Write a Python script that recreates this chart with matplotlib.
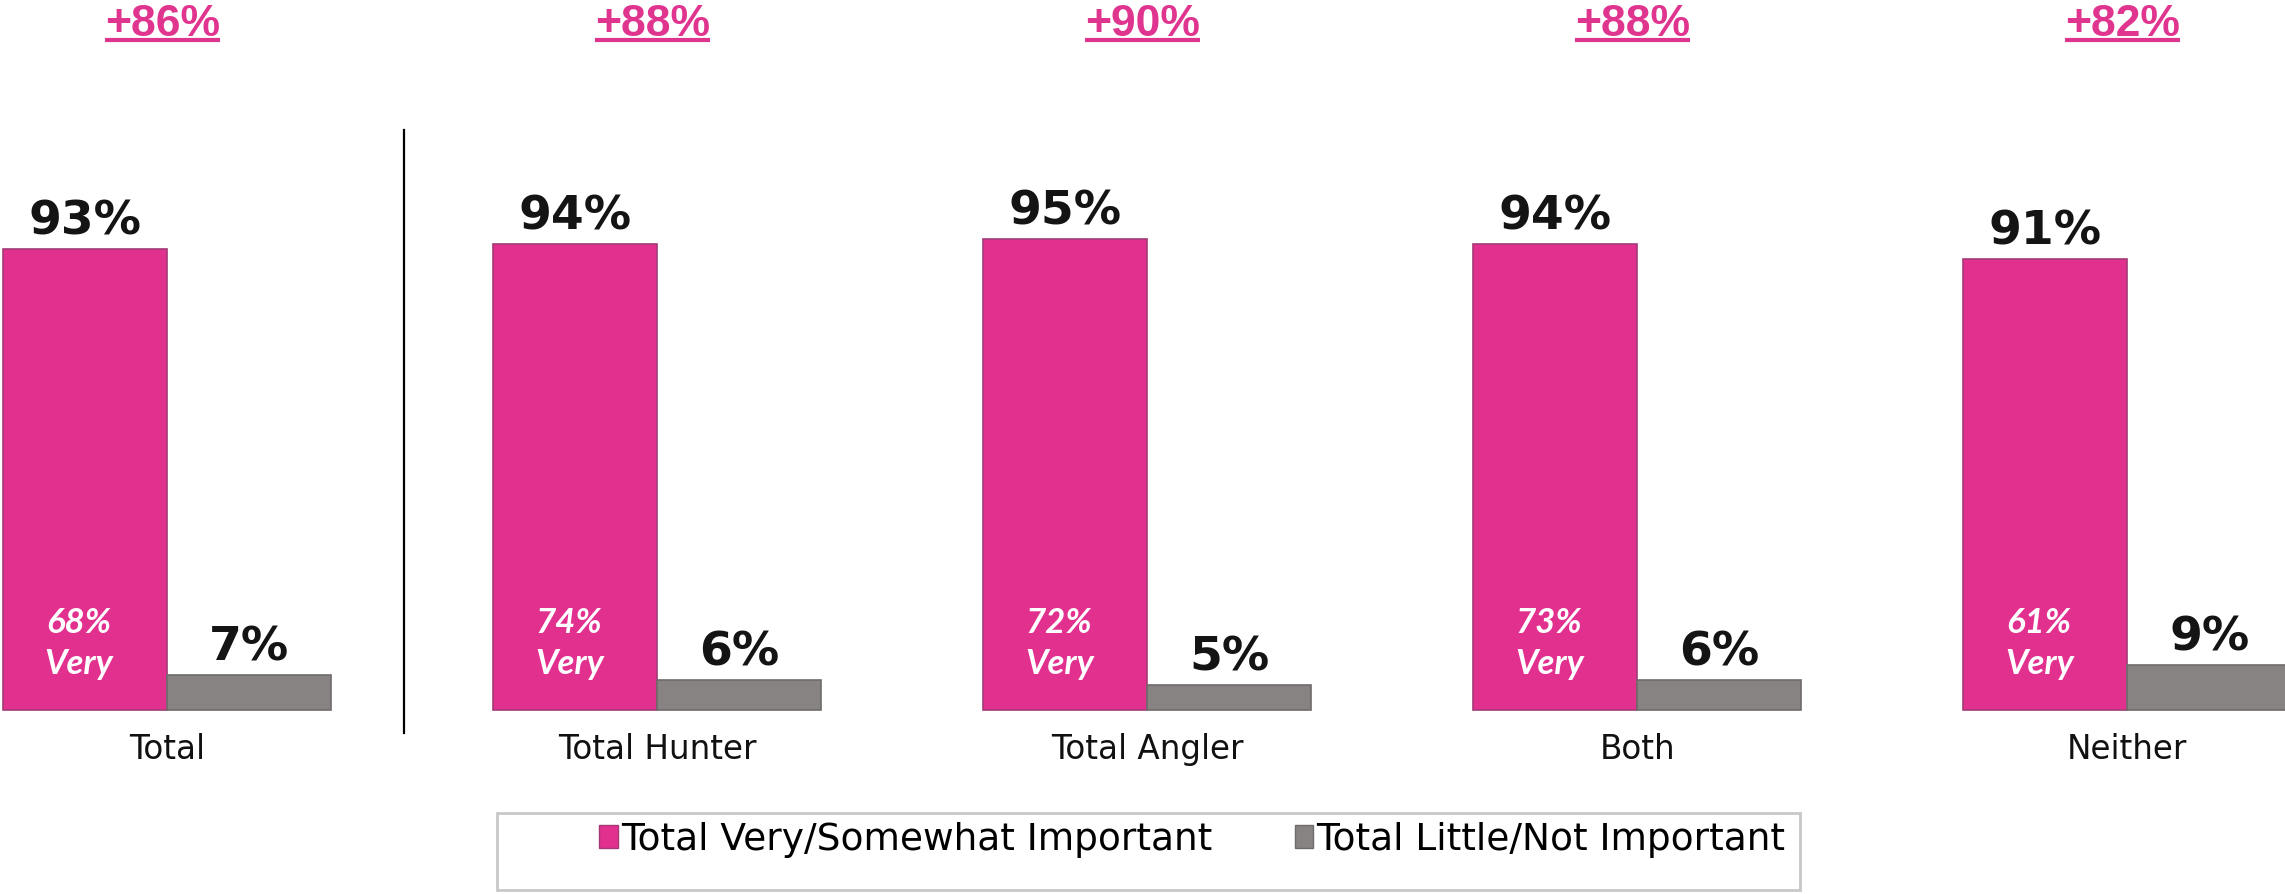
import numpy as np
import matplotlib
matplotlib.use("Agg")
import matplotlib.pyplot as plt
from matplotlib.patches import Patch, Rectangle

# data
groups = ["Total", "Total Hunter", "Total Angler", "Both", "Neither"]
important = [93, 94, 95, 94, 91]
not_important = [7, 6, 5, 6, 9]
very = [68, 74, 72, 73, 61]
net = ["+86%", "+88%", "+90%", "+88%", "+82%"]
legend_labels = ["Total Very/Somewhat Important", "Total Little/Not Important"]

pink = "#e2308f"
label_pink = "#e0358f"
grey = "#878383"

W, H = 2285, 894
fig = plt.figure(figsize=(W / 100, H / 100), dpi=100)
ax = fig.add_axes([0, 0, 1, 1])
ax.set_xlim(-0.3411, 4.322)
ax.set_ylim(-37.1, 143.15)
ax.axis("off")

x = np.arange(len(groups))
w = 0.335
b1 = ax.bar(x - w / 2, important, w, color=pink, edgecolor="#a33a76", linewidth=1.2)
b2 = ax.bar(x + w / 2, not_important, w, color=grey, edgecolor="#6f6b6b", linewidth=1.2)

for i in range(len(groups)):
    ax.annotate(f"{important[i]}%", (x[i] - w / 2, important[i]), xytext=(0, 14),
                textcoords="offset pixels", ha="center", va="baseline",
                fontsize=34, fontweight="bold", color="#141414", family="DejaVu Sans")
    ax.annotate(f"{not_important[i]}%", (x[i] + w / 2, not_important[i]), xytext=(0, 15),
                textcoords="offset pixels", ha="center", va="baseline",
                fontsize=34, fontweight="bold", color="#141414", family="DejaVu Sans")
    # inner "very" labels
    ax.text(x[i] - w / 2 - 0.012, 15.5, f"{very[i]}%", ha="center", va="baseline",
            fontsize=25, fontweight="bold", style="italic", color="white", family="Lato")
    ax.text(x[i] - w / 2 - 0.012, 7.3, "Very", ha="center", va="baseline",
            fontsize=25, fontweight="bold", style="italic", color="white", family="Lato")
    ax.text(x[i], -9.9, groups[i], ha="center", va="baseline",
            fontsize=23.5, color="#111111", family="DejaVu Sans")

top_texts = []
for i in range(len(groups)):
    t = ax.annotate(net[i], (x[i], 135.9), xytext=(-5, 0), textcoords="offset pixels",
                    ha="center", va="baseline", fontsize=32, fontweight="bold",
                    color=label_pink, family="Liberation Sans")
    top_texts.append(t)

# divider between Total and the subgroups
ax.plot([0.484, 0.484], [-4.6, 116.9], color="black", lw=1.6)

# underline the net labels
fig.canvas.draw()
r = fig.canvas.get_renderer()
inv = ax.transData.inverted()
for t in top_texts:
    bb = t.get_window_extent(r)
    x0 = inv.transform((bb.x0, 0))[0]
    x1 = inv.transform((bb.x1, 0))[0]
    ax.plot([x0, x1], [135.0, 135.0], color=label_pink, lw=3, solid_capstyle="butt")

# legend box
fig.patches.append(Rectangle((497 / W, 1 - 890 / H), (1800 - 497) / W, 77 / H,
                             transform=fig.transFigure, fill=False,
                             edgecolor="#c8c8c8", linewidth=2))
handles = [Patch(facecolor=pink, edgecolor="#a33a76"), Patch(facecolor=grey, edgecolor="#6f6b6b")]
fig.legend(handles, legend_labels, loc="center left", bbox_to_anchor=(599 / W, 1 - 840 / H),
           ncol=2, frameon=False, borderpad=0, borderaxespad=0,
           handlelength=0.5, handleheight=0.55, handletextpad=0.08, columnspacing=2.2,
           prop={"family": "DejaVu Sans", "size": 27})

fig.savefig("out.png", dpi=100)
